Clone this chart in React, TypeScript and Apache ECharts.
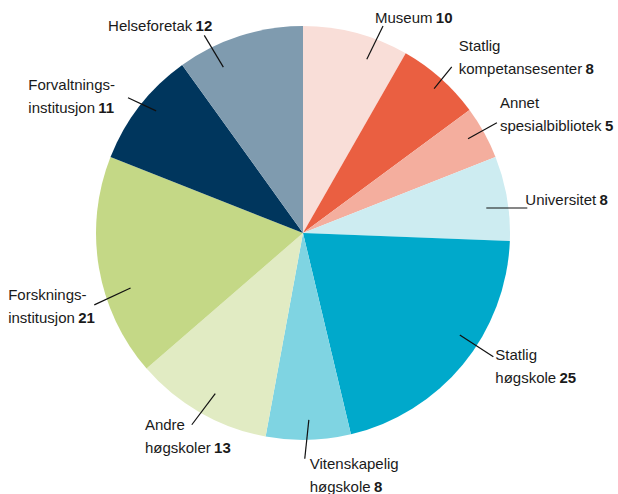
import React, { useEffect, useRef } from "react";
import * as echarts from "echarts";

const categories = [
  "Museum",
  "Statlig\nkompetansesenter",
  "Annet\nspesialbibliotek",
  "Universitet",
  "Statlig\nhøgskole",
  "Vitenskapelig\nhøgskole",
  "Andre\nhøgskoler",
  "Forsknings-\ninstitusjon",
  "Forvaltnings-\ninstitusjon",
  "Helseforetak",
];
const values = [10, 8, 5, 8, 25, 8, 13, 21, 11, 12];
const colors = [
  "#F9DED8",
  "#EA5F41",
  "#F4AE9E",
  "#CDECF1",
  "#00A9CB",
  "#7FD4E2",
  "#E1EBC3",
  "#C4D886",
  "#00365D",
  "#7F9BAF",
];

// Leader-line / label placement tweaks (layout only):
// da: angular shift of the line start (deg), r: start radius,
// dir: line direction (deg clockwise from up), len: line length,
// dx: label left offset from line end (right-side labels),
// rx: label right edge offset from line end (left-side labels), dy: label top offset.
const labelTweaks: any[] = [
  { da: 5.3, r: 185, dir: 26, len: 37, dx: -8, dy: -20.5 },
  { da: 0.6, r: 195, dir: 39, len: 28, dx: 7, dy: -32.5 },
  { da: -0.7, r: 190, dir: 61, len: 33, dx: 3, dy: -31.5 },
  { da: 1.9, r: 185, dir: 90, len: 41, dx: -2, dy: -19.5 },
  { da: -6.4, r: 187, dir: 123, len: 40, dx: 2, dy: -13.5 },
  { da: -0.3, r: 187, dir: 186, len: 39, dx: 5, dy: -6.5 },
  { da: -1.1, r: 183, dir: 217, len: 39, rx: 39, dy: -11.5 },
  { da: -8, r: 181, dir: 245, len: 40, rx: 0.6, dy: -21.5 },
  { da: 1.8, r: 191, dir: 295, len: 31, rx: -13, dy: -24.5 },
  { da: -7.8, r: 184, dir: 329, len: 37, rx: 8, dy: -21.5 },
];

const CX = 303;
const CY = 233;
const R = 207;

export default function App() {
  const ref = useRef<HTMLDivElement>(null);
  useEffect(() => {
    document.body.style.margin = "0";
    const chart = echarts.init(ref.current!, null, { renderer: "svg" });
    const data = categories.map((name, i) => ({
      name,
      value: values[i],
      itemStyle: { color: colors[i] },
    }));
    const fmt = (p: any) => {
      const lines = String(p.name).split("\n");
      return lines
        .map((l, i) =>
          i === lines.length - 1 ? `{n|${l}} {v|${p.value}}` : `{n|${l}}`
        )
        .join("\n");
    };
    const rad = (d: number) => (d * Math.PI) / 180;
    chart.setOption({
      animation: false,
      series: [
        {
          type: "pie",
          center: [CX, CY],
          radius: R,
          startAngle: 90,
          clockwise: true,
          silent: true,
          z: 2,
          label: { show: false },
          labelLine: { show: false },
          data,
        },
        {
          type: "pie",
          center: [CX, CY],
          radius: 186,
          startAngle: 90,
          clockwise: true,
          silent: true,
          z: 5,
          avoidLabelOverlap: false,
          itemStyle: { color: "rgba(0,0,0,0)" },
          data: categories.map((name, i) => ({ name, value: values[i] })),
          label: {
            show: true,
            position: "outside",
            formatter: fmt,
            distanceToLabelLine: 2,
            rich: {
              n: {
                fontFamily: "Liberation Sans",
                fontSize: 15,
                color: "#1a1a1a",
                lineHeight: 23,
              },
              v: {
                fontFamily: "Liberation Sans",
                fontSize: 15,
                fontWeight: "bold",
                color: "#1a1a1a",
                lineHeight: 23,
              },
            },
          },
          labelLine: {
            show: true,
            length: 38,
            length2: 0,
            smooth: false,
            lineStyle: { color: "#111", width: 1.2 },
          },
          labelLayout: (params: any) => {
            const t = labelTweaks[params.dataIndex];
            const pts = params.labelLinePoints;
            if (!t || !pts || !pts.length) return {};
            const p0 = pts[0];
            const mid =
              (Math.atan2(p0[0] - CX, -(p0[1] - CY)) * 180) / Math.PI;
            const a = rad(mid + t.da);
            const sx = CX + t.r * Math.sin(a);
            const sy = CY - t.r * Math.cos(a);
            const d = rad(t.dir);
            const ex = sx + t.len * Math.sin(d);
            const ey = sy - t.len * Math.cos(d);
            const w = params.labelRect.width;
            const x = t.rx != null ? ex + t.rx - w : ex + t.dx;
            return {
              x,
              y: ey + t.dy,
              align: "left",
              verticalAlign: "top",
              labelLinePoints: [
                [sx, sy],
                [ex, ey],
              ],
            };
          },
        },
      ],
    });
    return () => chart.dispose();
  }, []);
  return <div ref={ref} style={{ width: 618, height: 494 }} />;
}
